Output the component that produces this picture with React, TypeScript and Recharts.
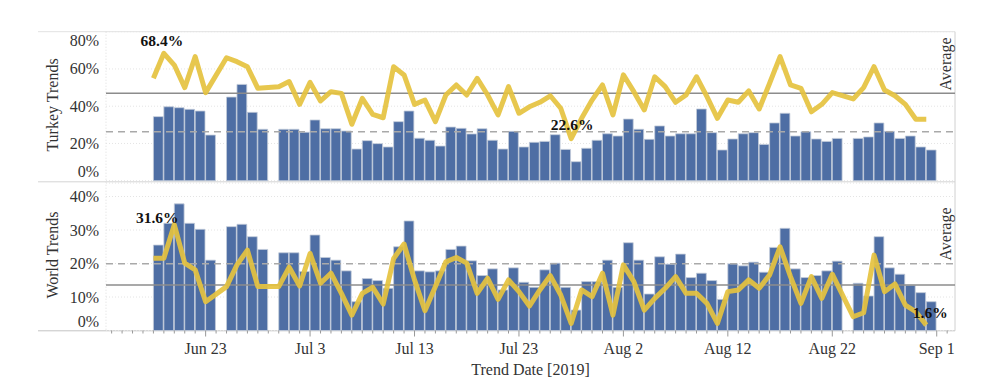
import { Bar, CartesianGrid, ComposedChart, Line, ReferenceLine, XAxis, YAxis } from "recharts";

// trend dates (days without data are simply missing)
const dates = [
  "2019-06-18", "2019-06-19", "2019-06-20", "2019-06-21", "2019-06-22", "2019-06-23",
  "2019-06-25", "2019-06-26", "2019-06-27", "2019-06-28", "2019-06-30",
  "2019-07-01", "2019-07-02", "2019-07-03", "2019-07-04", "2019-07-05", "2019-07-06", "2019-07-07", "2019-07-08", "2019-07-09", "2019-07-10",
  "2019-07-11", "2019-07-12", "2019-07-13", "2019-07-14", "2019-07-15", "2019-07-16", "2019-07-17", "2019-07-18", "2019-07-19", "2019-07-20",
  "2019-07-21", "2019-07-22", "2019-07-23", "2019-07-24", "2019-07-25", "2019-07-26", "2019-07-27", "2019-07-28", "2019-07-29", "2019-07-30", "2019-07-31",
  "2019-08-01", "2019-08-02", "2019-08-03", "2019-08-04", "2019-08-05", "2019-08-06", "2019-08-07", "2019-08-08", "2019-08-09", "2019-08-10",
  "2019-08-11", "2019-08-12", "2019-08-13", "2019-08-14", "2019-08-15", "2019-08-16", "2019-08-17", "2019-08-18", "2019-08-19", "2019-08-20",
  "2019-08-21", "2019-08-22",
  "2019-08-24", "2019-08-25", "2019-08-26", "2019-08-27", "2019-08-28", "2019-08-29", "2019-08-30", "2019-08-31",
];

const turkeyBars = [
  34.4, 39.7, 39.2, 38.3, 37.4, 24.5,
  44.9, 51.7, 36.7, 27.6, 27.6,
  27.6, 26.0, 32.6, 27.9, 27.9, 26.7, 17.0, 21.5, 19.9, 18.1,
  31.7, 37.4, 22.8, 21.7, 18.6, 28.8, 28.1, 25.1, 27.9, 21.7,
  17.0, 26.5, 18.1, 20.6, 21.1, 24.7, 16.8, 10.2, 17.4, 21.7, 25.2,
  24.0, 33.1, 27.6, 22.2, 29.4, 24.0, 25.2, 25.2, 38.5, 25.8,
  16.5, 22.4, 25.2, 25.8, 19.5, 31.0, 36.2, 24.0, 26.3, 22.4,
  21.1, 22.7,
  22.7, 23.5, 31.0, 26.5, 22.7, 24.0, 18.1, 16.5,
];

const turkeyLine = [
  55.0, 68.4, 62.1, 50.0, 66.6, 47.3,
  66.0, 63.9, 61.2, 49.6, 50.5,
  53.2, 41.0, 52.8, 42.8, 47.8, 46.9, 30.3, 44.2, 35.6, 33.8,
  61.2, 56.8, 41.0, 43.3, 31.7, 46.0, 51.4, 46.0, 55.0, 46.0,
  35.3, 50.5, 36.2, 39.7, 42.1, 45.6, 38.9, 22.6, 33.5, 43.3, 51.4,
  35.3, 56.8, 47.8, 38.0, 55.8, 50.5, 42.1, 46.0, 55.8, 45.1,
  33.5, 43.3, 42.1, 48.2, 38.5, 52.3, 66.6, 51.4, 49.6, 37.0,
  41.0, 47.3,
  43.9, 50.0, 61.2, 48.7, 45.6, 41.0, 33.0, 33.0,
];

const worldBars = [
  25.5, 32.0, 37.8, 32.0, 30.2, 21.0,
  31.0, 31.7, 28.0, 24.2, 23.2,
  23.2, 17.6, 28.5, 21.8, 21.0, 17.8, 8.6, 15.5, 14.9, 12.6,
  25.0, 32.7, 17.8, 17.5, 17.8, 24.2, 25.2, 20.8, 16.4, 18.4,
  12.1, 18.7, 14.4, 12.9, 18.1, 20.1, 12.9, 6.1, 14.6, 14.6, 21.0,
  12.9, 26.2, 21.0, 10.9, 22.0, 19.8, 22.8, 15.8, 17.1, 14.9,
  9.3, 19.9, 19.3, 20.4, 17.4, 24.8, 30.5, 18.4, 15.8, 16.4,
  17.8, 20.7,
  14.1, 10.3, 28.0, 18.7, 16.8, 13.5, 11.3, 8.6,
];

const worldLine = [
  21.6, 21.6, 31.6, 20.1, 18.1, 8.6,
  13.1, 19.6, 24.0, 13.1, 13.1,
  18.9, 13.3, 23.0, 14.1, 17.1, 11.1, 4.6, 11.1, 12.9, 7.9,
  21.5, 25.8, 15.1, 5.9, 13.1, 20.5, 21.8, 20.1, 11.1, 15.6,
  9.3, 15.1, 11.6, 7.3, 12.1, 16.4, 10.6, 2.1, 12.1, 10.1, 17.1,
  4.6, 19.6, 14.6, 6.1, 9.6, 12.6, 16.1, 11.1, 11.1, 8.1,
  2.1, 11.6, 12.1, 15.1, 12.6, 16.6, 25.0, 16.1, 8.1, 16.1,
  9.6, 16.8,
  4.1, 5.3, 22.5, 11.6, 13.9, 7.6, 5.6, 1.6,
];

const majorTickDates = ["2019-06-23", "2019-07-03", "2019-07-13", "2019-07-23", "2019-08-02", "2019-08-12", "2019-08-22", "2019-09-01"];
const majorTickLabels = ["Jun 23", "Jul 3", "Jul 13", "Jul 23", "Aug 2", "Aug 12", "Aug 22", "Sep 1"];

const turkeyTicks = [0, 20, 40, 60, 80];
const worldTicks = [0, 10, 20, 30, 40];

// reference lines ("Average")
const turkeyLineAvg = 46.9;
const turkeyBarAvg = 26.3;
const worldLineAvg = 13.6;
const worldBarAvg = 19.9;

const BLUE = "#4e6ea4";
const GOLD = "#e5c23f";
const FONT = "'Liberation Serif', 'Times New Roman', serif";

const dayNum = (s: string) =>
  Date.UTC(+s.slice(0, 4), +s.slice(5, 7) - 1, +s.slice(8, 10)) / 86400000;

const rows = dates.map((d, i) => ({
  day: dayNum(d),
  turkeyBar: turkeyBars[i],
  turkeyLine: turkeyLine[i],
  worldBar: worldBars[i],
  worldLine: worldLine[i],
}));

const anchor = dayNum("2019-06-23");
const X_DOMAIN = [anchor - 9.54, anchor + 71.75];
// bars span [day, day + 1], so their hidden axis is shifted by half a day
const BAR_DOMAIN = [X_DOMAIN[0] - 0.5, X_DOMAIN[1] - 0.5];
const majorDays = majorTickDates.map(dayNum);
const allDays: number[] = [];
for (let d = Math.ceil(X_DOMAIN[0]); d <= X_DOMAIN[1]; d++) allDays.push(d);

const YTick = ({ x, y, payload, top }: any) => {
  const v = payload.value;
  const shift = v === 0 ? -9 : v === top ? 8.3 : 0;
  return (
    <text x={x} y={y + shift + 5.5} textAnchor="end" fontSize={16} fontFamily={FONT} fill="#333">
      {v}%
    </text>
  );
};

const XTick = ({ x, y, payload }: any) => {
  const idx = majorDays.indexOf(payload.value);
  const major = idx >= 0;
  return (
    <g>
      <line x1={x} x2={x} y1={y} y2={y + (major ? 6 : 3)} stroke="#999" strokeWidth={1} />
      {major && (
        <text x={x} y={y + 23.5} textAnchor="middle" fontSize={16} fontFamily={FONT} fill="#333">
          {majorTickLabels[idx]}
        </text>
      )}
    </g>
  );
};

const extremeLabel = (values: number[], offsets: { dx: number; dy: number }[]) => {
  const maxV = Math.max(...values);
  const minV = Math.min(...values);
  return (p: any) => {
    if (p.value !== maxV && p.value !== minV) return null;
    const o = p.value === maxV ? offsets[0] : offsets[1];
    return (
      <text
        key={`lbl-${p.index}`}
        x={p.x + o.dx}
        y={p.y + o.dy + 5.5}
        textAnchor="middle"
        fontSize={15.5}
        fontWeight="bold"
        fontFamily={FONT}
        fill="#111"
      >
        {p.value}%
      </text>
    );
  };
};

const chartStyle = { position: "absolute" as const, left: 0, top: 0 };

const App = () => {
  return (
    <div style={{ position: "absolute", left: 0, top: 0, width: 1000, height: 380, background: "#fff", fontFamily: FONT }}>
      <svg width={1000} height={380} style={{ position: "absolute", left: 0, top: 0 }}>
        <line x1={38} x2={955} y1={31.7} y2={31.7} stroke="#e2e2e2" />
        <line x1={38} x2={955} y1={181.8} y2={181.8} stroke="#d4d4d4" />
        <line x1={38} x2={955} y1={330.8} y2={330.8} stroke="#c4c4c4" />
        <line x1={106} x2={106} y1={31.7} y2={330.8} stroke="#dcdcdc" strokeDasharray="1 2" />
        <line x1={955} x2={955} y1={31.7} y2={330.8} stroke="#d0d0d0" />
      </svg>

      <ComposedChart
        width={1000}
        height={380}
        data={rows}
        margin={{ top: 31.7, right: 45, bottom: 199.3, left: 0 }}
        style={chartStyle}
      >
        <CartesianGrid vertical={false} stroke="#e4e4e4" strokeDasharray="1 2" />
        <XAxis dataKey="day" type="number" domain={X_DOMAIN} allowDataOverflow hide />
        <XAxis xAxisId="bar" dataKey="day" type="number" domain={BAR_DOMAIN} allowDataOverflow hide />
        <YAxis
          domain={[0, 80]}
          ticks={turkeyTicks}
          width={106}
          axisLine={false}
          tickLine={false}
          tickSize={0}
          tickMargin={7}
          tick={<YTick top={80} />}
        />
        <Bar xAxisId="bar" dataKey="turkeyBar" fill={BLUE} stroke="#c3cbd9" strokeWidth={0.8} barSize={9.8} isAnimationActive={false} />
        <ReferenceLine y={turkeyBarAvg} stroke="#a9a9a9" strokeWidth={1.5} strokeDasharray="7 5" />
        <ReferenceLine y={turkeyLineAvg} stroke="#8c8c8c" strokeWidth={1.5} />
        <Line
          dataKey="turkeyLine"
          stroke={GOLD}
          strokeWidth={5}
          strokeOpacity={0.92}
          strokeLinejoin="round"
          dot={false}
          isAnimationActive={false}
          label={extremeLabel(turkeyLine, [{ dx: -2, dy: -12.6 }, { dx: 1, dy: -14.6 }])}
        />
      </ComposedChart>

      <ComposedChart
        width={1000}
        height={380}
        data={rows}
        margin={{ top: 183.1, right: 45, bottom: 0, left: 0 }}
        style={chartStyle}
      >
        <CartesianGrid vertical={false} stroke="#e4e4e4" strokeDasharray="1 2" />
        <XAxis
          dataKey="day"
          type="number"
          domain={X_DOMAIN}
          allowDataOverflow
          ticks={allDays}
          interval={0}
          height={49.5}
          axisLine={false}
          tickLine={false}
          tickSize={0}
          tickMargin={0}
          tick={<XTick />}
        />
        <XAxis xAxisId="bar" dataKey="day" type="number" domain={BAR_DOMAIN} allowDataOverflow hide />
        <YAxis
          domain={[0, 44]}
          ticks={worldTicks}
          width={106}
          axisLine={false}
          tickLine={false}
          tickSize={0}
          tickMargin={7}
          tick={<YTick top={44} />}
        />
        <Bar xAxisId="bar" dataKey="worldBar" fill={BLUE} stroke="#c3cbd9" strokeWidth={0.8} barSize={9.8} isAnimationActive={false} />
        <ReferenceLine y={worldBarAvg} stroke="#a9a9a9" strokeWidth={1.5} strokeDasharray="7 5" />
        <ReferenceLine y={worldLineAvg} stroke="#8c8c8c" strokeWidth={1.5} />
        <Line
          dataKey="worldLine"
          stroke={GOLD}
          strokeWidth={5}
          strokeOpacity={0.92}
          strokeLinejoin="round"
          dot={false}
          isAnimationActive={false}
          label={extremeLabel(worldLine, [{ dx: -17, dy: -7 }, { dx: 4, dy: -12.4 }])}
        />
      </ComposedChart>

      <svg width={1000} height={380} style={{ position: "absolute", left: 0, top: 0, pointerEvents: "none" }}>
        <g fontFamily={FONT} fontSize={16} fill="#333" textAnchor="middle">
          <text transform="translate(57.5,105) rotate(-90)">Turkey Trends</text>
          <text transform="translate(57.5,255) rotate(-90)">World Trends</text>
          <text transform="translate(951,64) rotate(-90)">Average</text>
          <text transform="translate(951,234) rotate(-90)">Average</text>
          <text x={530.5} y={374.5}>Trend Date [2019]</text>
        </g>
      </svg>
    </div>
  );
};

export default App;
